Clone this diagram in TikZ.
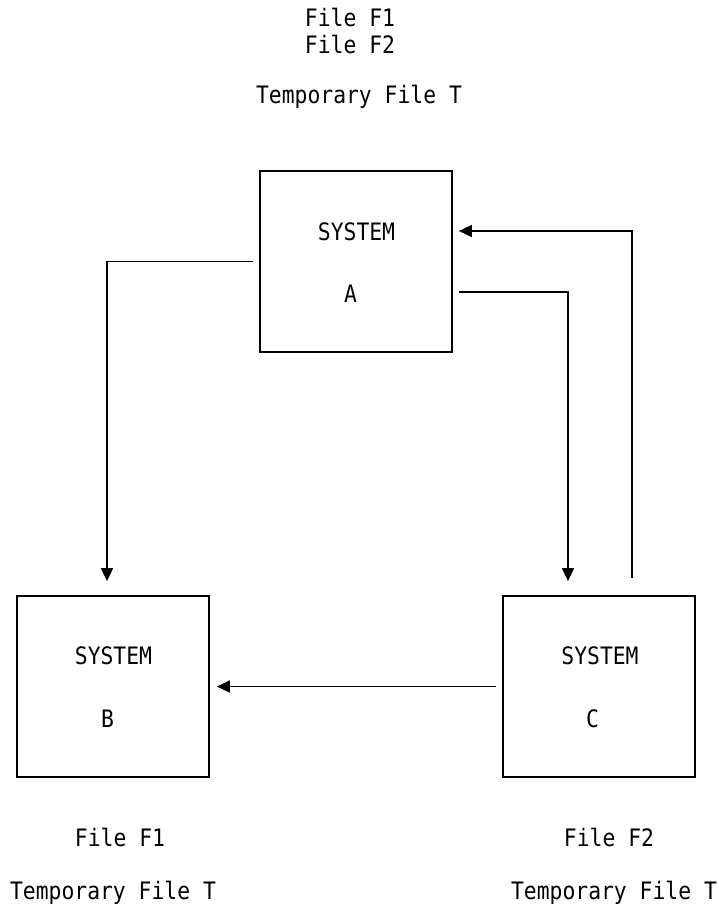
\documentclass[tikz,border=0pt]{standalone}
\usepackage{fontspec}
\newfontfamily\monofont[FakeStretch=0.89]{DejaVu Sans Mono}
\usetikzlibrary{arrows.meta}
\tikzset{
  sysbox/.style={draw, line width=1.7pt, minimum width=192pt, minimum height=181pt, inner sep=0pt},
  txt/.style={font=\monofont\fontsize{24}{28}\selectfont, inner sep=0pt, anchor=center},
  conn/.style={line width=1.5pt, -{Triangle[length=13pt,width=12pt]}}
}
\begin{document}
\begin{tikzpicture}[x=1pt,y=-1pt]
\useasboundingbox (0,0) rectangle (718,915);
\node[sysbox] (A) at (356,261.5) {};
\node[sysbox] (B) at (113,686.5) {};
\node[sysbox] (C) at (599,686.5) {};
% texts
\node[txt] (t1) at (350,17) {File F1};
\node[txt] (t2) at (350,44) {File F2};
\node[txt] (t3) at (359,97) {Temporary File T};
\node[txt] (as) at (356.5,232) {SYSTEM};
\node[txt] (al) at (350.5,294) {A};
\node[txt] (bs) at (113.5,656) {SYSTEM};
\node[txt] (bl) at (107.5,719) {B};
\node[txt] (cs) at (600,656) {SYSTEM};
\node[txt] (cl) at (592.5,719) {C};
\node[txt] (b1) at (120,837) {File F1};
\node[txt] (b2) at (113,893) {Temporary File T};
\node[txt] (c1) at (609,837) {File F2};
\node[txt] (c2) at (614,893) {Temporary File T};
% connectors
\draw[conn] ([xshift=-6pt]A.west) -| ([xshift=-6pt,yshift=14pt]B.north);
\draw[conn] ([xshift=6pt,yshift=-30.5pt]A.east) -| ([xshift=-31pt,yshift=14pt]C.north);
\draw[conn] ([xshift=33pt,yshift=17pt]C.north) |- ([xshift=6pt,yshift=30.5pt]A.east);
\draw[conn] ([xshift=-6pt]C.west) -- ([xshift=7pt]B.east);
\end{tikzpicture}
\end{document}
